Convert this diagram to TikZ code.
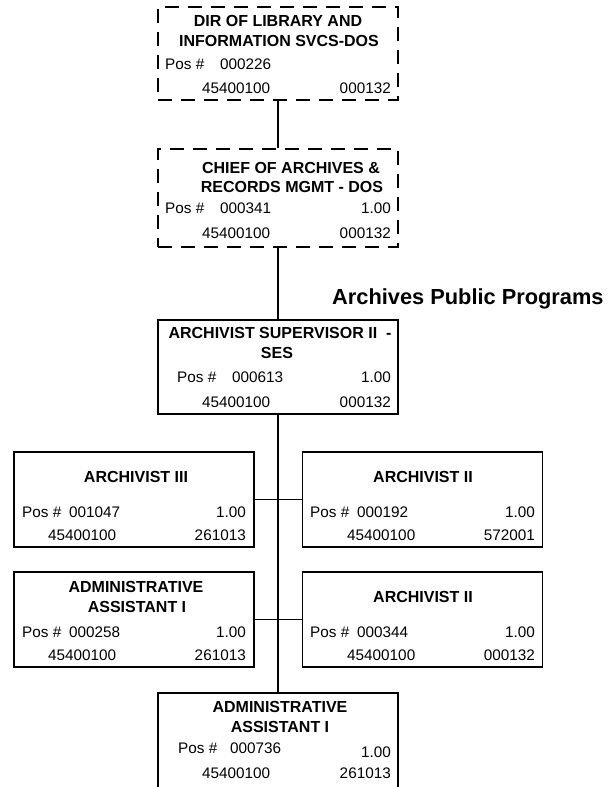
\documentclass[tikz,border=0pt]{standalone}
\usepackage{fontspec}
\setmainfont{Liberation Sans}
\begin{document}
\begin{tikzpicture}[x=1pt,y=-1pt,
  box/.style={draw, line width=1.9pt, inner sep=0pt, minimum width=240pt},
  vacant/.style={box, dash pattern=on 14pt off 9pt},
  link/.style={line width=1.9pt},
  ttl/.style={font=\fontsize{16}{18}\selectfont\bfseries, inner sep=0pt, anchor=base},
  txl/.style={font=\fontsize{15.3}{18}\selectfont, inner sep=0pt, anchor=base west},
  txr/.style={font=\fontsize{15.3}{18}\selectfont, inner sep=0pt, anchor=base east},
  head/.style={font=\fontsize{21.8}{24}\selectfont\bfseries, inner sep=0pt, anchor=base west}
]
\useasboundingbox (0,0) rectangle (609,787);

% position boxes
\node[vacant, minimum height=93pt] (dir) at (278,53.5) {};
\node[vacant, minimum height=98pt] (chief) at (278,198) {};
\node[box, minimum height=94pt] (sup) at (278,367) {};
\node[box, minimum height=95pt] (arc3) at (134,499.5) {};
\node[box, minimum height=95pt] (arc2a) at (422.5,499.5) {};
\node[box, minimum height=95pt] (adm1) at (134,619.5) {};
\node[box, minimum height=95pt] (arc2b) at (422.5,619.5) {};
\node[box, minimum height=117pt] (adm2) at (278,751.5) {};

% reporting lines
\draw[link] (dir.south) -- (chief.north);
\draw[link] (chief.south) -- (sup.north);
\draw[link] (sup.south) -- (adm2.north);
\draw[link] (arc3.east) -- (arc2a.west);
\draw[link] (adm1.east) -- (arc2b.west);

% unit heading
\node[head] (unit) at (332,304.5) {Archives Public Programs};

% DIR OF LIBRARY AND INFORMATION SVCS-DOS
\node[ttl] (dirA) at (278,27) {DIR OF LIBRARY AND};
\node[ttl] (dirB) at (279,46.5) {INFORMATION SVCS-DOS};
\node[txl] (dirP) at (165,69) {Pos \#};
\node[txl] (dirN) at (220,69) {000226};
\node[txl] (dirC) at (202,93) {45400100};
\node[txr] (dirD) at (391,93) {000132};

% CHIEF OF ARCHIVES & RECORDS MGMT - DOS
\node[ttl] (chA) at (291,173.5) {CHIEF OF ARCHIVES \&};
\node[ttl] (chB) at (292,192.5) {RECORDS MGMT - DOS};
\node[txl] (chP) at (165,213.5) {Pos \#};
\node[txl] (chN) at (220,213.5) {000341};
\node[txr] (chF) at (391,213.5) {1.00};
\node[txl] (chC) at (202,238.5) {45400100};
\node[txr] (chD) at (391,238.5) {000132};

% ARCHIVIST SUPERVISOR II - SES
\node[ttl] (supA) at (280,338.5) {ARCHIVIST SUPERVISOR II\ \ -};
\node[ttl] (supB) at (277,358.5) {SES};
\node[txl] (supP) at (177,382.5) {Pos \#};
\node[txl] (supN) at (232,382.5) {000613};
\node[txr] (supF) at (391,382.5) {1.00};
\node[txl] (supC) at (202,407.5) {45400100};
\node[txr] (supD) at (391,407.5) {000132};

% ARCHIVIST III
\node[ttl] (a3A) at (136,482.5) {ARCHIVIST III};
\node[txl] (a3P) at (22,517.5) {Pos \#};
\node[txl] (a3N) at (69,517.5) {001047};
\node[txr] (a3F) at (246,517.5) {1.00};
\node[txl] (a3C) at (48,540.5) {45400100};
\node[txr] (a3D) at (246,540.5) {261013};

% ARCHIVIST II (000192)
\node[ttl] (a2A) at (423,482.5) {ARCHIVIST II};
\node[txl] (a2P) at (310,517.5) {Pos \#};
\node[txl] (a2N) at (357,517.5) {000192};
\node[txr] (a2F) at (535,517.5) {1.00};
\node[txl] (a2C) at (347,540.5) {45400100};
\node[txr] (a2D) at (535,540.5) {572001};

% ADMINISTRATIVE ASSISTANT I (000258)
\node[ttl] (ad1A) at (136,592.5) {ADMINISTRATIVE};
\node[ttl] (ad1B) at (137,612.5) {ASSISTANT I};
\node[txl] (ad1P) at (22,637.5) {Pos \#};
\node[txl] (ad1N) at (69,637.5) {000258};
\node[txr] (ad1F) at (246,637.5) {1.00};
\node[txl] (ad1C) at (48,660.5) {45400100};
\node[txr] (ad1D) at (246,660.5) {261013};

% ARCHIVIST II (000344)
\node[ttl] (b2A) at (423,602.5) {ARCHIVIST II};
\node[txl] (b2P) at (310,637.5) {Pos \#};
\node[txl] (b2N) at (357,637.5) {000344};
\node[txr] (b2F) at (535,637.5) {1.00};
\node[txl] (b2C) at (347,660.5) {45400100};
\node[txr] (b2D) at (535,660.5) {000132};

% ADMINISTRATIVE ASSISTANT I (000736)
\node[ttl] (ad2A) at (280,712.5) {ADMINISTRATIVE};
\node[ttl] (ad2B) at (280,732.5) {ASSISTANT I};
\node[txl] (ad2P) at (178,753.5) {Pos \#};
\node[txl] (ad2N) at (230,753.5) {000736};
\node[txr] (ad2F) at (391,757.5) {1.00};
\node[txl] (ad2C) at (202,778.5) {45400100};
\node[txr] (ad2D) at (391,778.5) {261013};
\end{tikzpicture}
\end{document}
